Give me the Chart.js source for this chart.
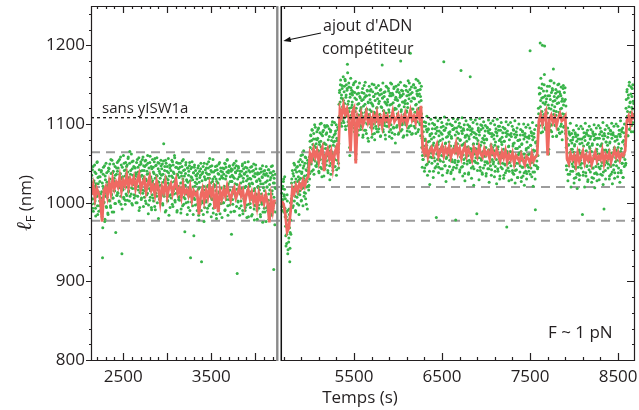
<!DOCTYPE html>
<html>
<head>
<meta charset="utf-8">
<script src="https://cdn.jsdelivr.net/npm/chart.js@4"></script>
<style>
  html, body { margin: 0; padding: 0; background: #fff; }
</style>
</head>
<body>
<canvas id="chart" width="639" height="410"></canvas>
<script>
// raw extension (green dots): two interleaved passes, 5 s apart each
const greenStep = 5;
const greenLeftStart = 2135;
const greenLeft = [
  1031,998,1020,1042,1005,989,1026,1015,1048,1002,993,1037,1019,1008,1052,985,1024,1011,1033,996,
  1027,1003,991,1039,1014,982,930,1021,1045,1000,1017,976,1034,1008,1050,994,1026,1012,987,1040,
  1019,1043,1002,1030,996,1055,1011,1024,988,1038,1006,1049,1015,1027,999,1035,962,1022,1044,1009,
  1040,1012,1053,1026,1001,1036,1019,1058,998,1031,935,1045,1016,1028,1007,1050,1021,1034,1003,1042,
  1037,1009,1048,1025,1056,1014,1032,1002,1065,1029,1041,1011,1019,1052,997,1035,1023,1046,1006,1030,
  1044,1018,1000,1036,1027,1055,1008,1039,1021,990,1048,1013,1033,1052,1004,1025,1041,1016,1058,995,
  1033,1007,1046,1019,1054,999,1028,1040,1012,1050,986,1024,1037,1003,1059,1015,1031,994,1043,1010,
  1028,1045,1002,1037,1014,1056,991,1023,1048,1008,1034,1017,1051,980,1026,1040,1005,1031,1013,1047,
  1035,1012,1049,997,1026,1075,1008,1041,1020,1054,990,1031,1015,1046,1002,1029,1038,984,1022,1044,
  1023,1047,1006,1034,1016,1052,995,1039,1011,1027,1057,1001,1030,1018,1045,988,1036,1014,1050,1004,
  1032,1003,1045,1019,987,1038,1010,1053,996,1027,1041,1007,1034,963,1022,1048,1000,1029,1015,1044,
  1026,994,1040,1008,1051,1017,930,1033,1001,1045,1012,1029,985,1038,1006,1048,1021,997,1035,1010,
  1024,990,1037,1005,1047,978,1019,1032,998,1043,1011,925,1028,1002,1039,985,1016,1050,994,1030,
  1029,1001,1044,1013,988,1036,1022,1052,996,1031,1008,1046,1017,982,1039,1004,1027,1055,993,1020,
  1022,995,1041,1009,1030,980,1047,1003,1025,990,1036,1014,1051,986,1018,1040,999,1032,1006,1044,
  1031,1000,1043,1018,990,1049,1011,1034,1004,1054,1022,984,1038,1015,1046,997,1027,1008,1040,960,
  1027,1042,998,1033,1012,1050,989,1024,1039,1006,1047,1017,910,1030,1001,1044,1020,993,1036,1011,
  1025,996,1040,1013,1049,986,1031,1005,1037,1019,990,1045,1009,1028,981,1034,1016,1052,998,1023,
  1021,1039,994,1030,1008,1046,985,1024,1003,1041,1015,978,1033,997,1048,1011,1027,990,1036,1004,
  1019,993,1037,1004,1028,982,1043,1011,998,1032,975,1024,1040,1001,1015,988,1035,1008,1046,994,
  1020,990,1034,1003,1042,979,1016,1029,996,1038,984,1011,1047,993,1025,915,1031,1000,1019,988
];
const greenLeftStartB = 2137.5;
const greenLeftB = [
  1004,1035,1017,993,1046,1012,1028,999,1039,1021,983,1024,1008,1051,996,1032,1014,989,1042,1002,
  1033,1011,990,1041,1006,1025,968,1036,1018,1001,1047,979,1029,1012,995,1038,1007,1022,985,1044,
  1027,1003,1049,1020,994,1037,1010,1054,1025,1006,1040,988,1031,1015,1046,999,1023,1036,1009,1051,
  1013,1044,1026,1002,1055,1021,1037,1008,1048,1030,992,1033,1017,1060,1005,1041,1023,998,1051,1011,
  1046,1020,1003,1039,1058,1015,1031,1050,1008,1036,1027,1062,999,1043,1018,1053,1029,1010,1045,1034,
  1009,1038,1024,1051,1000,1033,1045,1016,1057,1028,994,1040,1019,1049,1006,1035,1055,1012,1030,1047,
  1041,1015,1053,1002,1030,1048,1010,1036,1060,1022,997,1044,1018,1051,1007,1033,1046,991,1026,1055,
  1006,1039,1023,1052,995,1031,1047,1012,1035,1057,1000,1027,1043,1016,1050,1004,1037,1022,1054,1009,
  1043,1020,999,1036,1053,1011,1029,1046,988,1033,1050,1017,1040,1003,1025,1056,1008,1034,1048,994,
  1010,1041,1026,1054,998,1032,1048,1015,1037,1060,1003,1024,1045,1012,1051,990,1035,1021,1043,1007,
  1039,1008,1050,1025,992,1034,1046,1013,1030,1055,998,1021,1042,1005,1037,1051,1011,1028,985,1044,
  1001,1035,1019,1047,990,1028,1043,1009,1032,1052,996,1020,1038,958,1045,1004,1026,1041,1014,1034,
  1030,998,1044,1017,984,1026,1040,1003,1035,1050,990,1013,1037,1000,1046,1021,976,1033,1009,1042,
  1003,1038,1020,1049,993,1031,1044,1010,1036,1056,998,1025,1041,1006,1047,1016,1030,987,1039,1023,
  1033,1001,1046,1015,985,1027,1042,1005,1037,993,1049,1012,1030,999,1044,1019,1034,981,1039,1010,
  1000,1036,1021,1050,991,1030,1045,1008,1039,1055,996,1024,1041,1004,1047,1016,1033,988,1043,1027,
  1035,1004,1048,1019,989,1031,1044,1009,1038,1053,995,1023,1041,1002,1046,1017,1033,984,1040,1013,
  1002,1034,1018,1047,990,1027,1043,1006,1036,1051,994,1021,1039,997,1044,1012,1030,982,1041,1024,
  1031,999,1045,1014,983,1025,1040,1004,1034,1049,992,1018,1037,996,1043,1010,1028,979,1038,1021,
  997,1030,1016,1043,985,1024,1039,1001,1033,1047,988,1019,1036,993,1041,1009,1026,976,1037,1020,
  1028,996,1042,1011,979,1023,1038,999,1032,1046,986,1015,1035,990,1040,1007,1025,972,1036,1018
];
const greenRightStart = 4680;
const greenRight = [
  1012,990,1021,998,1030,1008,1017,993,1005,958,982,948,1010,990,940,972,955,985,925,962,
  978,1000,1025,1003,1041,1012,996,1034,1020,1048,1008,990,1030,1015,1045,999,1027,1011,1052,985,
  1040,1010,1055,1024,1002,1037,1018,1061,996,1031,1047,1013,1028,1058,1005,1042,1020,1035,992,1050,
  1045,1016,1052,1030,1078,1050,1085,1061,1040,1092,1068,1055,1081,1036,1072,1060,1096,1047,1075,1063,
  1080,1051,1093,1066,1040,1077,1058,1100,1045,1071,1087,1033,1064,1090,1052,1075,1061,1098,1043,1069,
  1074,1048,1089,1060,1097,1038,1070,1055,1084,1029,1066,1092,1050,1079,1062,1103,1041,1073,1057,1086,
  1078,1046,1091,1063,1035,1082,1054,1096,1068,1044,1125,1140,1108,1150,1118,1133,1097,1145,1122,1104,
  1130,1102,1148,1119,1155,1093,1137,1110,1143,1176,1125,1098,1152,1116,1070,1134,1107,1146,1121,1139,
  1128,1099,1141,1115,1152,1090,1133,1108,1055,1120,1095,1138,1112,1147,1086,1126,1104,1135,1117,1093,
  1121,1097,1140,1110,1083,1131,1104,1149,1092,1125,1115,1136,1088,1119,1143,1101,1128,1078,1112,1137,
  1118,1142,1096,1127,1108,1151,1087,1123,1100,1135,1115,1080,1130,1103,1146,1094,1121,1109,1139,1090,
  1126,1099,1137,1112,1084,1144,1106,1121,1175,1133,1093,1117,1140,1102,1128,1086,1114,1148,1097,1124,
  1131,1104,1145,1118,1090,1136,1110,1152,1099,1125,1082,1139,1113,1127,1095,1147,1107,1120,1076,1134,
  1119,1141,1098,1130,1111,1150,1089,1124,1105,1137,1180,1116,1143,1093,1128,1101,1138,1085,1122,1110,
  1126,1102,1148,1115,1136,1091,1121,1155,1108,1132,1097,1144,1190,1113,1129,1087,1140,1104,1119,1150,
  1133,1110,1146,1095,1124,1157,1103,1138,1118,1090,1143,1112,1128,1152,1099,1135,1121,1148,1070,1045,
  1084,1055,1097,1068,1040,1079,1061,1102,1048,1073,1090,1035,1066,1093,1052,1078,1023,1087,1058,1071,
  1081,1050,1094,1063,1032,1076,1057,1099,1044,1070,1088,981,1062,1091,1049,1074,1038,1085,1055,1068,
  1079,1043,1096,1060,1087,1035,1071,1052,1179,1064,1092,1047,1076,1027,1083,1058,1100,1041,1069,1089,
  1077,1046,1090,1062,1037,1084,1055,1098,1042,1068,1093,1030,1072,1051,1086,978,1063,1095,1048,1075,
  1082,1053,1097,1066,1039,1079,1058,1168,1045,1073,1088,1034,1061,1092,1050,1076,1028,1085,1057,1070,
  1078,1049,1093,1060,1036,1084,1054,1096,1160,1069,1087,1031,1065,1090,1046,1074,1022,1083,1053,1068,
  1069,1057,1082,986,1075,1050,1092,1066,1029,1086,1071,1041,1099,1056,1077,1038,1063,1095,1044,1080,
  1076,1048,1091,1059,1034,1081,1052,1095,1043,1067,1089,1026,1064,1088,1047,1072,1035,1084,1055,1070,
  1066,1052,1081,1033,1073,1046,1090,1063,1024,1085,1068,1040,1097,1050,1079,1030,1061,1092,1045,1077,
  1074,1043,1089,1058,1031,1078,1049,1094,1038,1066,1084,969,1062,1087,1044,1071,1028,1080,1051,1065,
  1056,1088,1029,1064,1041,1072,1093,1036,1076,1047,1025,1083,1059,1042,1086,1069,1032,1079,1050,1063,
  1071,1039,1086,1054,1027,1074,1045,1090,1034,1062,1081,1022,1057,1084,1040,1067,1030,1077,1048,1061,
  1070,1040,1085,1055,1193,1073,1044,1089,1033,1061,1080,1021,1056,1083,1039,1066,991,1076,1047,1060,
  1072,1043,1060,1120,1095,1138,1108,1203,1130,1089,1145,1116,1200,1099,1134,1112,1150,1199,1125,1093,
  1128,1101,1142,1114,1087,1136,1062,1120,1148,1097,1131,1109,1155,1090,1124,1143,1104,1170,1117,1135,
  1122,1098,1139,1111,1084,1133,1106,1150,1093,1127,1115,1141,1088,1119,1136,1100,1129,1080,1113,1145,
  1124,1097,1140,1110,1131,1092,1070,1042,1081,1055,1028,1073,1047,1088,1036,1064,1079,1020,1059,1076,
  1068,1040,1083,1052,1025,1072,1045,1087,1032,1060,1078,1018,1055,1081,1037,1064,1029,1075,1048,1062,
  1063,1050,1076,985,1066,1039,1083,1058,1020,1079,1061,1034,1089,1046,1074,1027,1054,1085,1042,1071,
  1069,1039,1084,1053,1026,1073,1044,1088,1031,1060,1080,1019,1056,1082,1038,1065,1028,1074,1049,1062,
  1055,1029,1087,1043,1072,1090,1047,1075,1035,1062,1023,1081,992,1058,1085,1041,1067,1077,1051,1064,
  1073,1044,1088,1056,1030,1076,1048,1091,1036,1063,1082,1024,1059,1086,1042,1068,1031,1078,1052,1065,
  1067,1054,1080,1033,1070,1044,1087,1061,1026,1084,1065,1038,1093,1050,1077,1032,1058,1089,1046,1074,
  1072,1048,1120,1098,1141,1110,1085,1133,1104,1149,1093,1127,1115,1138,1090,1121,1145,1102,1129,1112
];
const greenRightStartB = 4682.5;
const greenRightB = [
  995,1018,1004,1027,988,1010,1033,982,970,945,988,960,1002,935,978,950,992,968,942,1000,
  960,1005,1030,1009,994,1037,1016,1050,1002,1026,1042,988,1021,1039,1007,1046,1013,1033,997,1029,
  1015,1048,1031,1060,1003,1039,1052,1019,1044,1066,1008,1034,1050,1012,1057,998,1041,1027,1054,1021,
  1048,1022,1058,1037,1070,1086,1049,1079,1093,1057,1074,1042,1088,1065,1099,1053,1081,1070,1046,1090,
  1049,1082,1066,1095,1038,1074,1089,1055,1078,1101,1043,1069,1085,1050,1092,1034,1076,1060,1096,1057,
  1087,1053,1098,1069,1041,1080,1059,1094,1047,1072,1090,1036,1065,1099,1054,1083,1045,1077,1061,1102,
  1055,1088,1071,1099,1042,1079,1064,1093,1050,1075,1110,1143,1128,1156,1101,1137,1149,1115,1132,1160,
  1108,1141,1126,1157,1097,1134,1150,1113,1145,1165,1103,1129,1147,1120,1060,1138,1158,1111,1143,1124,
  1137,1106,1150,1121,1095,1140,1116,1154,1062,1131,1102,1146,1125,1092,1139,1111,1152,1099,1133,1119,
  1097,1130,1114,1145,1086,1123,1139,1102,1134,1153,1092,1118,1136,1100,1142,1082,1127,1111,1148,1105,
  1131,1100,1144,1116,1083,1125,1141,1095,1135,1150,1088,1113,1138,1097,1146,1120,1090,1132,1107,1149,
  1094,1129,1112,1143,1085,1122,1138,1099,1133,1152,1090,1117,1135,1098,1141,1081,1126,1110,1147,1103,
  1128,1097,1142,1115,1084,1124,1139,1093,1136,1151,1089,1112,1137,1096,1145,1118,1087,1131,1106,1148,
  1096,1131,1113,1144,1087,1123,1140,1101,1134,1153,1091,1118,1136,1099,1142,1083,1128,1112,1149,1104,
  1130,1099,1143,1117,1086,1126,1141,1095,1137,1152,1090,1114,1138,1098,1147,1119,1088,1133,1108,1150,
  1097,1132,1115,1146,1088,1125,1142,1103,1136,1155,1093,1120,1138,1101,1144,1085,1130,1113,1082,1060,
  1055,1090,1072,1103,1044,1081,1097,1060,1093,1110,1049,1077,1094,1058,1100,1040,1085,1069,1106,1063,
  1088,1057,1101,1073,1040,1083,1099,1053,1094,1108,1046,1070,1096,1055,1104,1077,1045,1091,1064,1107,
  1053,1089,1070,1102,1043,1081,1097,1059,1092,1109,1047,1075,1095,1056,1100,1038,1084,1067,1105,1061,
  1087,1054,1100,1072,1039,1082,1098,1052,1093,1107,1045,1069,1095,1054,1103,1076,1044,1090,1063,1106,
  1052,1088,1069,1101,1042,1080,1096,1058,1091,1108,1046,1074,1094,1055,1099,1037,1083,1066,1104,1060,
  1086,1053,1099,1071,1038,1081,1097,1051,1092,1106,1044,1068,1094,1053,1102,1075,1043,1089,1062,1105,
  1051,1087,1068,1100,1041,1079,1095,1057,1090,1107,1045,1073,1093,1054,1098,1036,1082,1065,1103,1059,
  1085,1052,1098,1070,1037,1080,1096,1050,1091,1105,1043,1067,1093,1052,1101,1074,1042,1088,1061,1104,
  1049,1086,1066,1099,1040,1077,1094,1055,1089,1106,1043,1071,1092,1052,1097,1034,1081,1063,1102,1057,
  1083,1050,1096,1068,1035,1078,1094,1048,1089,1103,1041,1065,1091,1050,1099,1072,1040,1086,1059,1102,
  1047,1084,1064,1097,1038,1075,1092,1053,1087,1104,1041,1069,1090,1050,1095,1032,1079,1061,1100,1055,
  1080,1047,1093,1065,1032,1075,1091,1045,1086,1100,1038,1062,1088,1047,1096,1069,1037,1083,1056,1099,
  1045,1082,1062,1095,1036,1073,1090,1051,1085,1102,1039,1067,1088,1048,1093,1030,1077,1059,1098,1053,
  1078,1045,1091,1113,1146,1098,1139,1122,1158,1104,1133,1151,1090,1127,1142,1110,1163,1095,1136,1118,
  1097,1132,1114,1148,1088,1124,1068,1101,1136,1155,1092,1119,1140,1099,1145,1084,1129,1112,1152,1106,
  1130,1099,1144,1116,1085,1126,1141,1094,1135,1151,1089,1113,1138,1097,1147,1120,1090,1132,1108,1149,
  1096,1129,1112,1146,1088,1123,1047,1082,1063,1095,1036,1074,1090,1052,1086,1101,1040,1068,1088,1049,
  1080,1046,1092,1064,1031,1074,1089,1043,1084,1098,1036,1060,1086,1045,1094,1067,1035,1081,1054,1097,
  1044,1081,1061,1094,1035,1072,1089,1050,1084,1101,1038,1066,1087,1047,1092,1029,1076,1058,1097,1052,
  1081,1047,1093,1065,1032,1075,1090,1044,1085,1099,1037,1061,1087,1046,1095,1068,1036,1082,1055,1098,
  1045,1082,1062,1095,1036,1073,1090,1051,1085,1102,1039,1067,1088,1048,1093,1030,1077,1059,1098,1053,
  1083,1049,1095,1067,1034,1077,1092,1046,1087,1101,1039,1063,1089,1048,1097,1070,1038,1084,1057,1100,
  1047,1084,1064,1097,1038,1075,1092,1053,1087,1104,1041,1069,1090,1050,1095,1032,1079,1061,1100,1055,
  1084,1050,1131,1100,1144,1116,1085,1137,1122,1153,1094,1128,1110,1147,1098,1135,1119,1150,1090,1126
];

// filtered extension (red line), one every 20 s
const redStep = 20;
const redLeftStart = 2140;
const redLeft = [
  1010,1022,1005,1018,1012, 1004,976,1015,1020,1008, 1025,1012,1030,1018,1026,
  1020,1033,1015,1028,1022, 1035,1019,1030,1024,1032, 1018,1028,1036,1017,1025,
  1030,1014,1024,1033,1016, 1022,1010,1027,1018,1001, 1020,1013,1026,1008,1019,
  1024,1011,1020,1029,1012, 1018,1007,1023,1012,1016, 1009,1020,1004,1015,1010,
  1013,985,1008,1017,1002, 1015,1006,1022,1010,1018, 992,1012,988,1015,1005,
  1016,1008,1021,1011,1003, 1014,1019,1006,1012,1020, 1009,1015,998,1011,1017,
  1005,1013,1001,1010,995, 1012,1003,1008,999,1010, 1000,975,1006,990,1004
];
const redRightStart = 4680;
const redRight = [
  1002,998,985,963,968, 990,1018,1012,1022,1015, 1024,1019,1028,1021,1030,
  1033,1062,1055,1068,1058, 1066,1052,1064,1070,1040, 1061,1068,1056,1065,1045,
  1063,1070,1058,1118,1110, 1124,1112,1119,1108,1065, 1115,1120,1050,1108,1100,
  1112,1098,1106,1115,1102, 1109,1096,1111,1104,1114, 1101,1108,1097,1112,1105,
  1110,1099,1106,1116,1103, 1107,1112,1098,1109,1104, 1113,1100,1108,1117,1105,
  1110,1102,1115,1108,1123, 1068,1062,1073,1058,1066, 1070,1061,1068,1074,1059,
  1066,1072,1060,1069,1063, 1071,1058,1067,1064,1075, 1062,1069,1057,1066,1072,
  1060,1068,1063,1055,1070, 1066,1059,1071,1062,1058, 1068,1061,1065,1056,1070,
  1063,1058,1067,1060,1053, 1064,1057,1066,1052,1061, 1055,1063,1050,1060,1057,
  1052,1061,1054,1048,1059, 1056,1050,1062,1053,1058, 1060,1104,1112,1100,1108,
  1115,1060,1106,1111,1102, 1109,1098,1107,1113,1104, 1106,1110,1056,1050,1062,
  1055,1060,1048,1063,1052, 1058,1065,1051,1060,1054, 1062,1049,1057,1064,1053,
  1059,1055,1066,1050,1061, 1056,1063,1052,1060,1067, 1058,1064,1055,1062,1060,
  1066,1104,1110,1100,1112, 1106
];

// horizontal reference levels (nm)
const grayLevels = [1064, 1020, 977];
const bareLevel = 1108;

// broken time axis
const xRangeLeft = [2134, 4273];
const xRangeRight = [4651, 8692];
const xLabels = [2500, 3500, 5500, 6500, 7500, 8500];
const yTicks = [800, 900, 1000, 1100, 1200];
const yRange = [800, 1250];

const FONT = '"Open Sans", "DejaVu Sans", sans-serif';
const INK = '#231f20';

function toPoints(start, step, values) {
  return values.map((v, i) => ({ x: start + i * step, y: v }));
}

function xAxis(range, weight) {
  return {
    type: 'linear',
    position: 'bottom',
    stack: 'time',
    stackWeight: weight,
    min: range[0],
    max: range[1],
    grid: { display: false, drawTicks: false },
    border: { display: false },
    ticks: {
      autoSkip: false,
      maxRotation: 0,
      padding: 7,
      color: INK,
      font: { family: FONT, size: 17 },
      callback: v => String(v)
    },
    afterBuildTicks: ax => {
      ax.ticks = xLabels.filter(v => v >= range[0] && v <= range[1]).map(v => ({ value: v }));
    },
    afterFit: ax => {
      ax.height = 50;
      ax.paddingLeft = 0;
      ax.paddingRight = 0;
    }
  };
}

const decor = {
  id: 'decor',
  beforeDatasetsDraw(chart) {
    const { ctx, chartArea: a, scales: { y } } = chart;
    ctx.save();
    ctx.strokeStyle = '#9c9c9c';
    ctx.lineWidth = 2;
    ctx.setLineDash([9, 6]);
    grayLevels.forEach(v => {
      const py = y.getPixelForValue(v);
      ctx.beginPath();
      ctx.moveTo(a.left, py);
      ctx.lineTo(a.right, py);
      ctx.stroke();
    });
    ctx.restore();
  },
  afterDatasetsDraw(chart) {
    const { ctx, chartArea: a, scales: { xL, xR, y } } = chart;
    ctx.save();

    // dotted level without yISW1a
    ctx.strokeStyle = '#111';
    ctx.lineWidth = 1.3;
    ctx.setLineDash([3, 3]);
    const pb = y.getPixelForValue(bareLevel);
    ctx.beginPath();
    ctx.moveTo(a.left, pb);
    ctx.lineTo(a.right, pb);
    ctx.stroke();
    ctx.setLineDash([]);

    const brk = xL.right;
    const top = a.top + 0.5, bot = a.bottom + 0.5;

    // frames
    ctx.strokeStyle = INK;
    ctx.lineWidth = 1.2;
    ctx.beginPath();
    ctx.moveTo(brk - 2, top); ctx.lineTo(a.left + 0.5, top);
    ctx.lineTo(a.left + 0.5, bot); ctx.lineTo(brk - 2, bot);
    ctx.moveTo(brk + 2, top); ctx.lineTo(a.right - 0.5, top);
    ctx.lineTo(a.right - 0.5, bot); ctx.lineTo(brk + 2, bot);
    ctx.stroke();

    // axis break: grey edge of left panel, black edge of right panel
    ctx.strokeStyle = '#8a8a8a';
    ctx.lineWidth = 2.4;
    ctx.beginPath();
    ctx.moveTo(brk - 2, a.top); ctx.lineTo(brk - 2, a.bottom + 1);
    ctx.stroke();
    ctx.strokeStyle = '#111';
    ctx.lineWidth = 1.5;
    ctx.beginPath();
    ctx.moveTo(brk + 2, a.top); ctx.lineTo(brk + 2, a.bottom + 1);
    ctx.stroke();

    // x ticks, top and bottom, pointing inward
    ctx.strokeStyle = INK;
    ctx.lineWidth = 1.2;
    const xTick = (scale, v, len) => {
      const px = Math.round(scale.getPixelForValue(v)) + 0.5;
      ctx.beginPath();
      ctx.moveTo(px, a.bottom); ctx.lineTo(px, a.bottom - len);
      ctx.moveTo(px, a.top); ctx.lineTo(px, a.top + len);
      ctx.stroke();
    };
    for (let v = 2200; v <= 4200; v += 100) xTick(xL, v, v % 500 === 0 ? 7 : 3);
    for (let v = 4700; v <= 8600; v += 200) xTick(xR, v, (v - 500) % 1000 === 0 ? 7 : 3);

    // y ticks: left outward, right inward
    for (let v = yRange[0]; v <= yRange[1]; v += 20) {
      const py = Math.round(y.getPixelForValue(v)) + 0.5;
      const major = v % 100 === 0;
      ctx.beginPath();
      ctx.moveTo(a.left - (major ? 5 : 2), py); ctx.lineTo(a.left, py);
      ctx.moveTo(a.right, py); ctx.lineTo(a.right - (major ? 8 : 3), py);
      ctx.stroke();
    }

    // annotations
    ctx.fillStyle = INK;
    ctx.textBaseline = 'alphabetic';
    ctx.textAlign = 'left';
    ctx.font = '15px ' + FONT;
    ctx.fillText('sans yISW1a', 102, 113);
    ctx.font = '16px ' + FONT;
    ctx.fillText("ajout d'ADN", 323, 31);
    ctx.fillText('compétiteur', 322, 54);
    ctx.font = '17px ' + FONT;
    ctx.fillText('F ~ 1 pN', 548, 338);

    // arrow to the break
    const tipX = brk + 4, tipY = 41;
    ctx.strokeStyle = '#111';
    ctx.lineWidth = 1.1;
    ctx.beginPath();
    ctx.moveTo(321, 33); ctx.lineTo(tipX + 2, tipY - 0.5);
    ctx.stroke();
    const ang = Math.atan2(tipY - 33, tipX - 321);
    ctx.beginPath();
    ctx.moveTo(tipX, tipY);
    ctx.lineTo(tipX - 8 * Math.cos(ang - 0.35), tipY - 8 * Math.sin(ang - 0.35));
    ctx.lineTo(tipX - 8 * Math.cos(ang + 0.35), tipY - 8 * Math.sin(ang + 0.35));
    ctx.closePath();
    ctx.fillStyle = '#111';
    ctx.fill();

    // axis titles
    ctx.fillStyle = INK;
    ctx.font = '17px ' + FONT;
    ctx.textAlign = 'center';
    ctx.fillText('Temps (s)', 360, 403);

    ctx.translate(31, 203);
    ctx.rotate(-Math.PI / 2);
    ctx.textAlign = 'left';
    ctx.font = 'italic 21px "DejaVu Serif", serif';
    const w1 = ctx.measureText('ℓ').width;
    ctx.font = '13px ' + FONT;
    const w2 = ctx.measureText('F').width;
    ctx.font = '17px ' + FONT;
    const w3 = ctx.measureText(' (nm)').width;
    const x0 = -(w1 + w2 + w3) / 2;
    ctx.font = 'italic 21px "DejaVu Serif", serif';
    ctx.fillText('ℓ', x0, 0);
    ctx.font = '13px ' + FONT;
    ctx.fillText('F', x0 + w1, 4);
    ctx.font = '17px ' + FONT;
    ctx.fillText(' (nm)', x0 + w1 + w2, 0);

    ctx.restore();
  }
};

const GREEN = '#38b449';
const RED = '#ef6a62';

function rawSet(label, axis, start, values) {
  return {
    label, xAxisID: axis, order: 1,
    data: toPoints(start, greenStep, values),
    backgroundColor: GREEN, borderWidth: 0, pointRadius: 1.5
  };
}

function filteredSet(label, axis, start, values) {
  return {
    type: 'line', label, xAxisID: axis, order: 0,
    data: toPoints(start, redStep, values),
    borderColor: RED, borderWidth: 2.8, pointRadius: 0, tension: 0
  };
}

new Chart(document.getElementById('chart'), {
  type: 'scatter',
  data: {
    datasets: [
      filteredSet('filtré (gauche)', 'xL', redLeftStart, redLeft),
      filteredSet('filtré (droite)', 'xR', redRightStart, redRight),
      rawSet('brut (gauche)', 'xL', greenLeftStart, greenLeft),
      rawSet('brut (gauche) b', 'xL', greenLeftStartB, greenLeftB),
      rawSet('brut (droite)', 'xR', greenRightStart, greenRight),
      rawSet('brut (droite) b', 'xR', greenRightStartB, greenRightB)
    ]
  },
  options: {
    responsive: false,
    animation: false,
    devicePixelRatio: 1,
    layout: { padding: { left: 0, right: 2, top: 6, bottom: 0 } },
    plugins: { legend: { display: false }, tooltip: { enabled: false } },
    scales: {
      xL: xAxis(xRangeLeft, xRangeLeft[1] - xRangeLeft[0]),
      xR: xAxis(xRangeRight, xRangeRight[1] - xRangeRight[0]),
      y: {
        type: 'linear',
        position: 'left',
        min: yRange[0],
        max: yRange[1],
        grid: { display: false, drawTicks: false },
        border: { display: false },
        ticks: {
          padding: 6,
          color: INK,
          font: { family: FONT, size: 17 },
          callback: v => String(v)
        },
        afterBuildTicks: ax => { ax.ticks = yTicks.map(v => ({ value: v })); },
        afterFit: ax => {
          ax.width = 91;
          ax.paddingTop = 0;
          ax.paddingBottom = 0;
        }
      }
    }
  },
  plugins: [decor]
});
</script>
</body>
</html>
